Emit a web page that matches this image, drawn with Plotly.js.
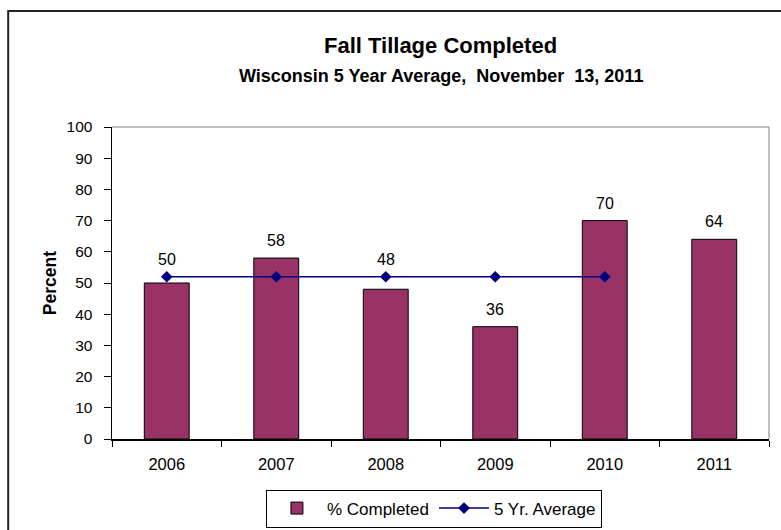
<!DOCTYPE html>
<html>
<head>
<meta charset="utf-8">
<script src="https://cdn.plot.ly/plotly-3.0.1.min.js"></script>
<style>html,body{margin:0;padding:0;background:#fff;}#chart{width:781px;height:530px;}</style>
</head>
<body>
<div id="chart"></div>
<script>
var years = ["2006", "2007", "2008", "2009", "2010", "2011"];
var completed = [50, 58, 48, 36, 70, 64];
var avgYears = ["2006", "2007", "2008", "2009", "2010"];
var fiveYrAvg = [52, 52, 52, 52, 52];
var yTicks = [0, 10, 20, 30, 40, 50, 60, 70, 80, 90, 100];

var FONT = "Liberation Sans, Arial, sans-serif";

// value labels sit above the bar, lifted over the average line where they would collide with it
var labelAnns = years.map(function (yr, i) {
  var base = completed[i];
  if (i < fiveYrAvg.length && completed[i] < fiveYrAvg[i] && fiveYrAvg[i] - completed[i] < 8) {
    base = fiveYrAvg[i];
  }
  return {
    x: i, y: base, xref: "x", yref: "y", text: String(completed[i]),
    showarrow: false, yanchor: "bottom", yshift: 7,
    font: {family: FONT, size: 16, color: "#000"}
  };
});

var data = [
  {
    type: "bar", name: "% Completed", x: years, y: completed, width: 0.41,
    marker: {color: "#993366", line: {color: "#000", width: 1}},
    hoverinfo: "none"
  },
  {
    type: "scatter", mode: "lines+markers", name: "5 Yr. Average",
    x: avgYears, y: fiveYrAvg,
    line: {color: "#000080", width: 1.5},
    marker: {symbol: "diamond", size: 9, color: "#000080"},
    hoverinfo: "none"
  }
];

var layout = {
  width: 781, height: 530,
  margin: {l: 112, r: 12, t: 127, b: 91, autoexpand: false},
  paper_bgcolor: "#fff", plot_bgcolor: "#fff",
  font: {family: FONT, size: 16, color: "#000"},
  showlegend: true,
  legend: {
    orientation: "h", x: 0.49, xanchor: "center", y: -0.162, yanchor: "top",
    bordercolor: "#000", borderwidth: 1, font: {family: FONT, size: 17},
    itemwidth: 50, tracegroupgap: 0
  },
  xaxis: {
    type: "category", categoryarray: years, range: [-0.5, 5.5], automargin: false,
    showline: true, linecolor: "#000", linewidth: 1.5,
    ticks: "outside", tickson: "boundaries", ticklen: 6, tickcolor: "#000",
    showgrid: false, zeroline: false, ticklabelstandoff: 10,
    tickfont: {family: FONT, size: 16.5}
  },
  yaxis: {
    range: [0, 100], tickvals: yTicks, ticktext: yTicks.map(String), automargin: false,
    showline: true, linecolor: "#000", linewidth: 1.5,
    ticks: "outside", ticklen: 7, tickcolor: "#000",
    showgrid: false, zeroline: false, ticklabelstandoff: 8,
    tickfont: {family: FONT, size: 15.5}
  },
  yaxis2: {
    overlaying: "y", range: [0, 100], tickvals: yTicks, showticklabels: false, automargin: false,
    ticks: "inside", ticklen: 5, tickcolor: "#000", showgrid: false, zeroline: false,
    showline: false
  },
  shapes: [
    {type: "line", xref: "paper", yref: "paper", x0: 0, x1: 1, y0: 1, y1: 1,
     line: {color: "#808080", width: 1}},
    {type: "line", xref: "paper", yref: "paper", x0: 1, x1: 1, y0: 0, y1: 1,
     line: {color: "#808080", width: 1}},
    {type: "rect", xref: "paper", yref: "paper", x0: -0.158, x1: 1.05, y0: -0.34, y1: 1.372,
     line: {color: "#222", width: 2}, fillcolor: "rgba(0,0,0,0)", layer: "below"}
  ],
  annotations: [
    {text: "<b>Fall Tillage Completed</b>", xref: "paper", yref: "paper", x: 0.5, y: 1.262,
     xanchor: "center", yanchor: "middle", showarrow: false, font: {family: FONT, size: 22}},
    {text: "<b>Wisconsin 5 Year Average,  November  13, 2011</b>", xref: "paper", yref: "paper",
     x: 0.5, y: 1.165, xanchor: "center", yanchor: "middle", showarrow: false,
     font: {family: FONT, size: 18}},
    {text: "<b>Percent</b>", xref: "paper", yref: "paper", x: -0.094, y: 0.5,
     xanchor: "center", yanchor: "middle", textangle: -90, showarrow: false,
     font: {family: FONT, size: 17.5}}
  ].concat(labelAnns)
};

Plotly.newPlot("chart", data, layout, {staticPlot: true, displayModeBar: false});
</script>
</body>
</html>
